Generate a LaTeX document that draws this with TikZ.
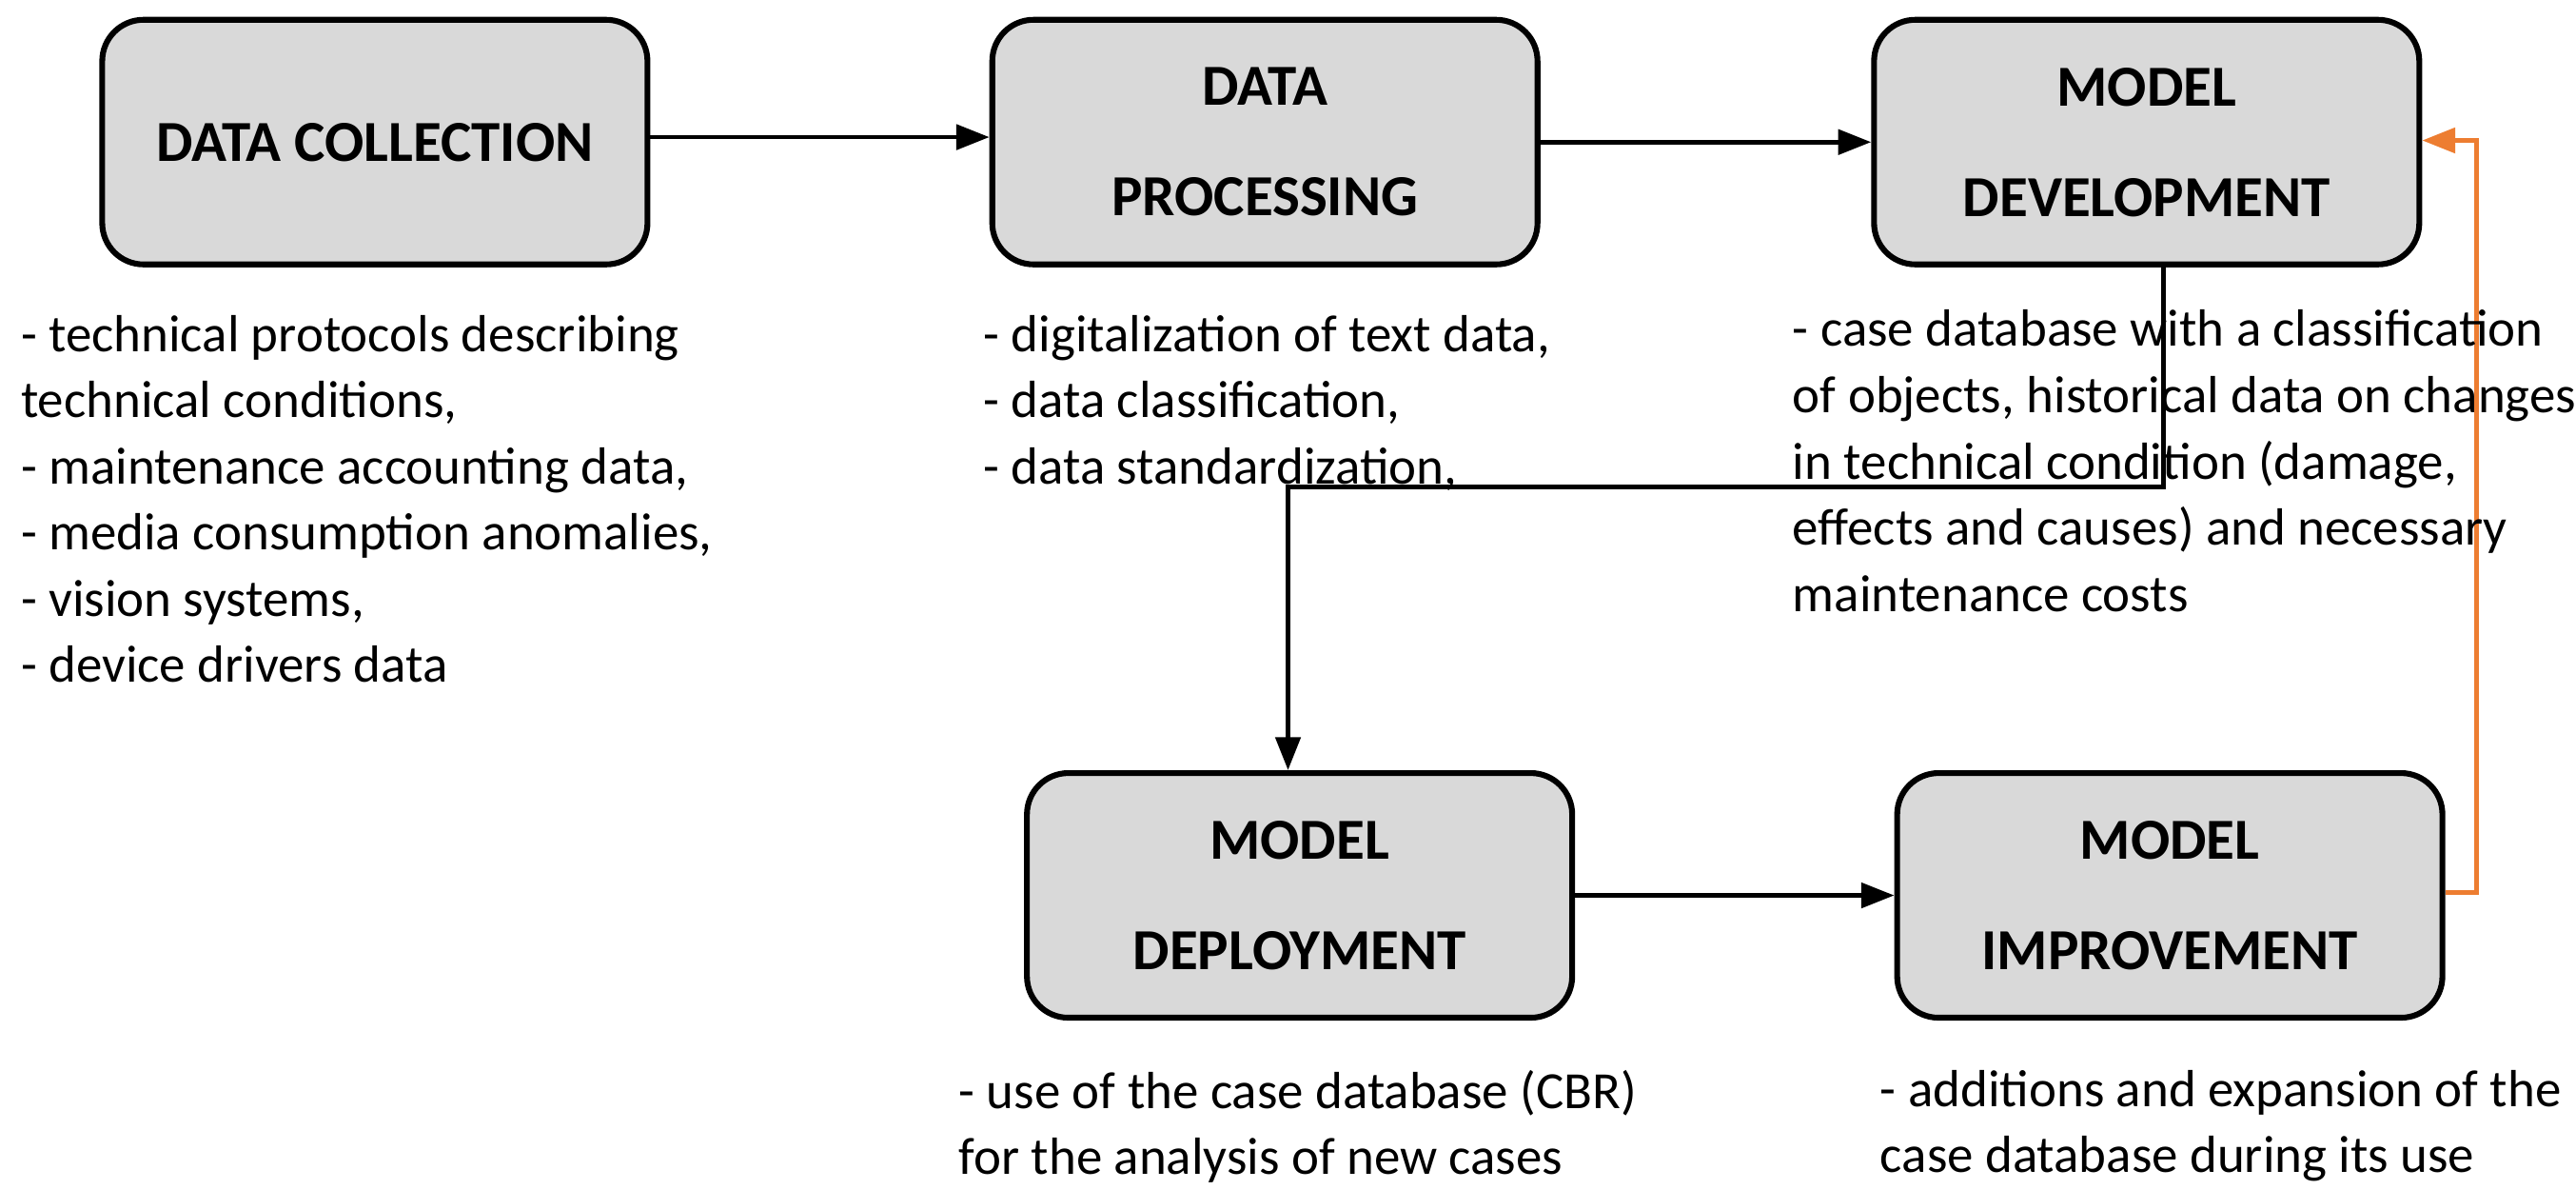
\documentclass[tikz,border=0pt]{standalone}
\usepackage{fontspec}
\setmainfont{Carlito}
\usetikzlibrary{arrows.meta}
\begin{document}
\begin{tikzpicture}[x=0.01cm,y=-0.01cm,
 box/.style={draw=black,line width=1pt,fill=gray!30,rounded corners=0.25cm,minimum width=3.3cm,minimum height=1.48cm,align=center,font=\fontsize{10}{19}\selectfont\bfseries},
 txt/.style={anchor=north west,align=left,font=\fontsize{9}{11.4}\selectfont,inner sep=0pt},
 arr/.style={line width=0.8pt,-{Triangle[length=0.2cm,width=0.15cm]}}]
\useasboundingbox (0,0) rectangle (1560,720);
\node[box] (dc) at (227,86) {DATA COLLECTION};
\node[box] (dp) at (766,86) {DATA\\PROCESSING};
\node[box] (md) at (1300,86) {MODEL\\DEVELOPMENT};
\node[box] (mde) at (787,542) {MODEL\\DEPLOYMENT};
\node[box] (mi) at (1314,542) {MODEL\\IMPROVEMENT};
\coordinate (c1) at (1310,295);
\coordinate (c2) at (780,295);
\coordinate (o1) at (1500,540);
\coordinate (o2) at (1500,85);
\draw[arr] (dc.east|-0,83) -- (dp.west|-0,83);
\draw[arr] (dp) -- (md);
\draw[arr] (md.south-|c1) -- (c1) -- (c2) -- (c2|-mde.north);
\draw[arr] (mde) -- (mi);
\draw[arr,color={rgb,255:red,237;green,125;blue,49}] (mi.east|-o1) -- (o1) -- (o2) -- (md.east|-o2);
\node[txt] (t1) at (12,190) {- technical protocols describing\\technical conditions,\\- maintenance accounting data,\\- media consumption anomalies,\\- vision systems,\\- device drivers data};
\node[txt] (t2) at (595,190) {- digitalization of text data,\\- data classification,\\- data standardization,};
\node[txt] (t3) at (1085,187) {- case database with a classification\\of objects, historical data on changes\\in technical condition (damage,\\effects and causes) and necessary\\maintenance costs};
\node[txt] (t4) at (580,647) {- use of the case database (CBR)\\for the analysis of new cases};
\node[txt] (t5) at (1138,647) {- additions and expansion of the\\case database during its use};
\end{tikzpicture}
\end{document}
